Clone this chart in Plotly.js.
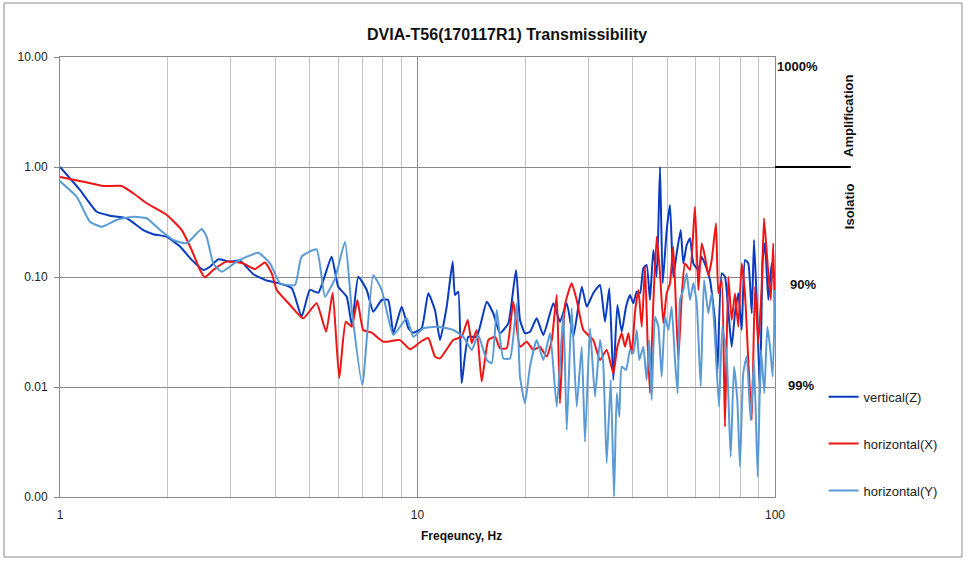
<!DOCTYPE html>
<html>
<head>
<meta charset="utf-8">
<script src="https://cdn.plot.ly/plotly-3.0.1.min.js"></script>
<style>
  html, body { margin: 0; padding: 0; background: #fff; }
  #chart { width: 966px; height: 562px; }
</style>
</head>
<body>
<div id="chart"></div>
<script>
/* data */
const freqZ = [1.0, 1.137, 1.267, 1.38, 1.537, 1.71, 1.824, 1.99, 2.166, 2.335, 2.517, 2.628, 2.773, 2.989, 3.188, 3.473, 3.785, 4.04, 4.45, 4.74, 5.0, 5.28, 5.75, 6.0, 6.34, 6.55, 6.83, 7.21, 7.52, 7.94, 8.28, 8.56, 9.03, 9.43, 9.73, 10.27, 10.72, 11.19, 11.56, 12.07, 12.54, 12.73, 13.0, 13.29, 13.87, 14.64, 15.62, 16.29, 17.01, 17.95, 18.86, 19.35, 19.98, 20.64, 21.54, 22.49, 23.99, 25.03, 26.15, 27.28, 28.8, 29.74, 31.02, 32.39, 33.45, 34.4, 35.3, 36.23, 37.26, 38.31, 39.31, 40.15, 41.04, 41.93, 42.82, 43.75, 44.7, 45.67, 46.67, 47.68, 48.52, 49.78, 50.85, 51.94, 53.09, 54.48, 55.4, 56.62, 57.84, 59.09, 61.03, 62.37, 64.12, 65.8, 67.9, 68.96, 70.96, 72.45, 74.02, 75.66, 77.28, 78.95, 80.7, 82.41, 84.19, 86.1, 87.36, 88.88, 90.78, 92.39, 93.76, 95.78, 97.88, 100];
const valZ = [1.0, 0.618, 0.392, 0.361, 0.342, 0.267, 0.245, 0.232, 0.189, 0.143, 0.116, 0.124, 0.145, 0.138, 0.141, 0.106, 0.093, 0.0887, 0.0789, 0.0436, 0.0762, 0.072, 0.153, 0.0816, 0.0662, 0.0366, 0.1007, 0.0762, 0.0484, 0.0618, 0.0618, 0.0308, 0.0537, 0.0342, 0.0312, 0.0342, 0.0711, 0.0501, 0.0267, 0.0537, 0.138, 0.0686, 0.0735, 0.0108, 0.0286, 0.0286, 0.0596, 0.0468, 0.0308, 0.0379, 0.116, 0.0407, 0.0308, 0.0318, 0.0421, 0.0297, 0.0577, 0.0392, 0.0577, 0.0286, 0.0816, 0.0537, 0.0711, 0.0846, 0.0392, 0.0789, 0.0116, 0.0557, 0.0318, 0.0537, 0.0686, 0.0577, 0.0735, 0.0711, 0.12, 0.1285, 0.0618, 0.176, 0.1007, 1.0, 0.0877, 0.267, 0.451, 0.1007, 0.164, 0.267, 0.133, 0.1954, 0.225, 0.133, 0.116, 0.153, 0.124, 0.094, 0.0407, 0.0133, 0.108, 0.1007, 0.05, 0.0232, 0.0468, 0.0711, 0.033, 0.1427, 0.133, 0.0468, 0.217, 0.0618, 0.00877, 0.1427, 0.2025, 0.0618, 0.133, 0.094];

const freqX = [1.0, 1.162, 1.322, 1.488, 1.603, 1.748, 1.99, 2.19, 2.335, 2.464, 2.545, 2.684, 2.926, 3.256, 3.512, 3.745, 3.91, 4.04, 4.4, 4.79, 5.22, 5.55, 5.79, 6.04, 6.3, 6.55, 6.79, 7.05, 7.45, 8.02, 8.93, 9.53, 9.95, 10.2, 10.72, 11.19, 11.56, 12.59, 13.29, 13.82, 14.18, 14.64, 15.12, 15.78, 16.48, 17.01, 17.77, 18.53, 19.35, 20.2, 21.09, 22.0, 22.98, 23.74, 24.52, 25.03, 25.85, 26.99, 27.88, 29.09, 31.02, 32.39, 33.82, 35.3, 36.23, 37.26, 38.06, 38.89, 39.74, 40.6, 41.48, 42.39, 43.3, 44.06, 44.7, 45.67, 46.67, 47.68, 48.71, 49.78, 50.85, 51.94, 53.64, 54.83, 56.01, 57.84, 59.73, 61.03, 62.37, 63.71, 65.08, 66.52, 68.39, 69.4, 70.96, 72.45, 74.02, 75.66, 77.28, 78.95, 80.7, 82.41, 84.19, 86.1, 87.9, 89.8, 91.78, 93.16, 95.17, 97.28, 98.9, 100];
const valX = [0.811, 0.735, 0.672, 0.672, 0.577, 0.468, 0.366, 0.267, 0.176, 0.116, 0.0994, 0.116, 0.138, 0.133, 0.118, 0.1355, 0.108, 0.0762, 0.0557, 0.0421, 0.0577, 0.0318, 0.072, 0.012, 0.0392, 0.0353, 0.0618, 0.033, 0.0312, 0.0258, 0.0267, 0.022, 0.0241, 0.0258, 0.0279, 0.0189, 0.0182, 0.0267, 0.0286, 0.0407, 0.025, 0.033, 0.0112, 0.0267, 0.0286, 0.0225, 0.0225, 0.0596, 0.0232, 0.0258, 0.0217, 0.0232, 0.0189, 0.0267, 0.0686, 0.0071, 0.0557, 0.0877, 0.0618, 0.033, 0.0267, 0.0176, 0.0217, 0.0133, 0.0232, 0.0308, 0.0232, 0.0308, 0.0202, 0.0484, 0.0762, 0.0353, 0.124, 0.0232, 0.00877, 0.0577, 0.2325, 0.108, 0.0379, 0.0711, 0.0877, 0.189, 0.0176, 0.0662, 0.133, 0.116, 0.4356, 0.0762, 0.2025, 0.153, 0.104, 0.1427, 0.308, 0.0711, 0.094, 0.00436, 0.1007, 0.0407, 0.0711, 0.0353, 0.133, 0.0711, 0.0176, 0.005, 0.0816, 0.025, 0.0816, 0.342, 0.1427, 0.0618, 0.2025, 0.0308];

const freqY = [1.0, 1.113, 1.213, 1.308, 1.441, 1.603, 1.748, 1.905, 2.075, 2.262, 2.491, 2.572, 2.684, 2.834, 3.12, 3.587, 3.868, 4.125, 4.543, 4.74, 5.22, 5.51, 5.88, 6.27, 6.55, 7.01, 7.52, 7.94, 8.56, 9.33, 9.73, 10.38, 11.32, 12.59, 13.43, 14.18, 14.79, 15.62, 16.13, 16.66, 17.38, 18.15, 18.95, 19.35, 19.98, 20.64, 21.54, 22.49, 23.48, 24.52, 25.59, 26.15, 26.99, 27.88, 28.8, 29.41, 30.38, 31.37, 32.39, 33.08, 33.82, 34.71, 35.46, 36.08, 36.69, 37.26, 38.31, 39.31, 40.15, 41.04, 41.73, 42.82, 43.75, 44.5, 45.19, 46.17, 47.17, 48.2, 49.25, 50.3, 51.4, 52.5, 53.42, 54.23, 55.4, 56.62, 57.84, 59.09, 60.4, 61.98, 63.31, 65.08, 66.52, 67.92, 69.72, 71.23, 73.27, 75.16, 76.79, 78.45, 79.8, 81.5, 83.34, 85.5, 87.36, 89.45, 91.37, 93.35, 95.17, 96.83, 98.54, 100];
const valY = [0.741, 0.537, 0.318, 0.2866, 0.33, 0.353, 0.342, 0.267, 0.217, 0.2025, 0.273, 0.232, 0.133, 0.1117, 0.138, 0.166, 0.133, 0.0877, 0.0846, 0.153, 0.1786, 0.0662, 0.0973, 0.2094, 0.05, 0.0104, 0.104, 0.0762, 0.0297, 0.0421, 0.0286, 0.0342, 0.0353, 0.033, 0.0286, 0.0217, 0.0297, 0.0176, 0.0164, 0.05, 0.0182, 0.0182, 0.0577, 0.0124, 0.0071, 0.0153, 0.0267, 0.0176, 0.0308, 0.00662, 0.0468, 0.00406, 0.052, 0.00662, 0.0232, 0.00318, 0.0342, 0.00817, 0.0267, 0.0164, 0.00204, 0.0116, 0.00101, 0.00877, 0.00537, 0.0153, 0.0143, 0.0217, 0.0202, 0.033, 0.0176, 0.0232, 0.0116, 0.0267, 0.00762, 0.0436, 0.0353, 0.0124, 0.0436, 0.033, 0.0537, 0.0176, 0.00877, 0.0618, 0.0762, 0.108, 0.0618, 0.0877, 0.0577, 0.0101, 0.094, 0.0468, 0.0711, 0.0286, 0.00662, 0.0353, 0.0189, 0.00232, 0.0153, 0.00762, 0.00188, 0.0133, 0.0189, 0.005, 0.0176, 0.00153, 0.0217, 0.00877, 0.0353, 0.0232, 0.0124, 0.0762];

const seriesNames = ["vertical(Z)", "horizontal(X)", "horizontal(Y)"];
const seriesColors = ["#0a3cc0", "#f01414", "#5b9bd5"];

const xTickVals = [1, 10, 100];
const xTickText = ["1", "10", "100"];
const xMinor = [2, 3, 4, 5, 6, 7, 8, 9, 20, 30, 40, 50, 60, 70, 80, 90];
const yTickVals = [0.001, 0.01, 0.1, 1, 10];
const yTickText = ["0.00", "0.01", "0.10", "1.00", "10.00"];

const font = "Liberation Sans, Arial, sans-serif";

const xs = [freqZ, freqX, freqY];
const ys = [valZ, valX, valY];
const traces = seriesNames.map((name, i) => ({
  name: name,
  x: xs[i],
  y: ys[i],
  type: "scatter",
  mode: "lines",
  legendgroup: "g" + i,
  line: { color: seriesColors[i], width: 2, shape: "spline", smoothing: 0.45 },
}));

// small helper for the bold side labels
const sideLabel = (text, x, y, angle) => ({
  text: "<b>" + text + "</b>", xref: "paper", yref: "paper", x: x, y: y,
  xanchor: "center", yanchor: "middle", textangle: angle || 0,
  showarrow: false, font: { family: font, size: 13, color: "#111" },
});

const layout = {
  width: 966,
  height: 562,
  margin: { l: 60, r: 191, t: 57, b: 65 },
  paper_bgcolor: "#fff",
  plot_bgcolor: "#fff",
  font: { family: font, size: 12, color: "#222" },
  showlegend: true,
  legend: {
    x: 1.068, y: 0.262, xanchor: "left", yanchor: "top",
    font: { family: font, size: 13, color: "#222" },
    tracegroupgap: 27,
    itemwidth: 30,
    bgcolor: "rgba(0,0,0,0)",
  },
  xaxis: {
    type: "log",
    range: [0, 2],
    tickvals: xTickVals,
    ticktext: xTickText,
    ticks: "",
    ticklabelstandoff: 7,
    showgrid: true,
    gridcolor: "#8a8a8a",
    gridwidth: 1,
    showline: true,
    linecolor: "#8a8a8a",
    mirror: true,
    zeroline: false,
    minor: { tickvals: xMinor, showgrid: true, gridcolor: "#c4c4c4", ticks: "" },
    tickfont: { family: font, size: 12, color: "#222" },
  },
  yaxis: {
    type: "log",
    range: [-3, 1],
    tickvals: yTickVals,
    ticktext: yTickText,
    ticks: "outside",
    ticklen: 5,
    tickcolor: "#8a8a8a",
    ticklabelstandoff: 4,
    showgrid: true,
    gridcolor: "#8a8a8a",
    showline: true,
    linecolor: "#8a8a8a",
    mirror: true,
    zeroline: false,
    tickfont: { family: font, size: 12, color: "#222" },
  },
  shapes: [
    // outer chart frame
    { type: "rect", xref: "paper", yref: "paper", x0: -0.0783, x1: 1.2615, y0: -0.1364, y1: 1.1227,
      line: { color: "#8c8c8c", width: 1 } },
    // amplification / isolation boundary
    { type: "line", xref: "paper", yref: "y", x0: 1.0, x1: 1.106, y0: 1, y1: 1,
      line: { color: "#000", width: 2 } },
  ],
  annotations: [
    { text: "<b>DVIA-T56(170117R1) Transmissibility</b>", xref: "paper", yref: "paper",
      x: 0.6245, y: 1.05, xanchor: "center", yanchor: "middle",
      showarrow: false, font: { family: font, size: 16, color: "#111" } },
    { text: "<b>Freqeuncy, Hz</b>", xref: "paper", yref: "paper",
      x: 0.561, y: -0.0886, xanchor: "center", yanchor: "middle",
      showarrow: false, font: { family: font, size: 12, color: "#111" } },
    sideLabel("1000%", 1.0308, 0.9795),
    sideLabel("90%", 1.039, 0.484),
    sideLabel("99%", 1.036, 0.2545),
    sideLabel("Amplification", 1.1035, 0.866, -90),
    sideLabel("Isolatio", 1.1035, 0.661, -90),
  ],
};

Plotly.newPlot("chart", traces, layout, { displayModeBar: false, responsive: false });
</script>
</body>
</html>
